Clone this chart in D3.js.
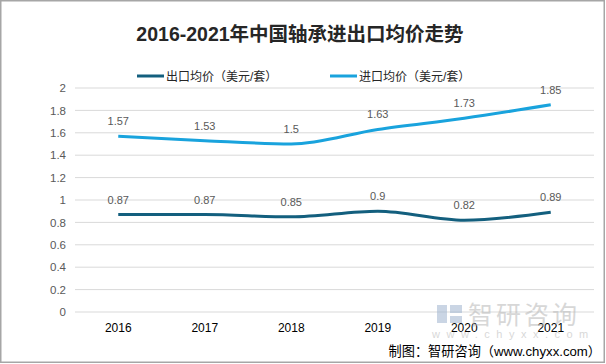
<!DOCTYPE html>
<html><head><meta charset="utf-8">
<script src="https://cdn.jsdelivr.net/npm/d3@7"></script>
<style>
html,body{margin:0;padding:0;background:#fff;}
svg{display:block;font-family:"Liberation Sans","Noto Sans CJK SC",sans-serif;}
</style></head>
<body>
<svg id="c" width="606" height="364"></svg>
<script>
const years = ["2016","2017","2018","2019","2020","2021"];
const exportPrice = [0.87, 0.87, 0.85, 0.9, 0.82, 0.89];
const importPrice = [1.57, 1.53, 1.5, 1.63, 1.73, 1.85];
const yTicks = [0, 0.2, 0.4, 0.6, 0.8, 1, 1.2, 1.4, 1.6, 1.8, 2];
const seriesNames = ["出口均价（美元/套）", "进口均价（美元/套）"];
const colors = ["#135f7e", "#19a3dd"];

const svg = d3.select("#c");
svg.append("rect").attr("x",0.75).attr("y",0.75).attr("width",603.5).attr("height",361.5)
  .attr("fill","#fff").attr("stroke","#a6a6a6").attr("stroke-width",1.5);

const x = d3.scaleBand().domain(years).range([75, 594]);
const y = d3.scaleLinear().domain([0, 2]).range([312, 88]);

// gridlines
svg.append("g").selectAll("line").data(yTicks).join("line")
  .attr("x1", 75).attr("x2", 594)
  .attr("y1", d => y(d)).attr("y2", d => y(d))
  .attr("stroke", "#d9d9d9").attr("stroke-width", 1);

// y axis labels
const yAxis = d3.axisLeft(y).tickValues(yTicks).tickSize(0).tickPadding(0).tickFormat(d => d3.format("~g")(d));
const ya = svg.append("g").attr("transform","translate(66,0)").call(yAxis);
ya.select(".domain").remove();
ya.selectAll("text").attr("fill","#595959").attr("font-size",11.5).attr("font-family","Liberation Sans, sans-serif");

// x axis labels
const xAxis = d3.axisBottom(x).tickSize(0).tickPadding(0);
const xa = svg.append("g").attr("transform","translate(0,323)").call(xAxis);
xa.select(".domain").remove();
xa.selectAll("text").attr("fill","#000").attr("font-size",12).attr("font-family","Liberation Sans, sans-serif");

// watermark
const wm = svg.append("g").attr("opacity",0.55);
wm.append("rect").attr("x",437).attr("y",305).attr("width",10).attr("height",18).attr("fill","#9fb4cf");
wm.append("rect").attr("x",450).attr("y",305).attr("width",12).attr("height",8).attr("fill","#9fb4cf");
wm.append("rect").attr("x",450).attr("y",316).attr("width",12).attr("height",7).attr("fill","#9fb4cf");
wm.append("text").attr("x",468).attr("y",324).attr("font-size",25).attr("fill","#b8b8b8")
  .attr("letter-spacing",3).text("智研咨询");
wm.append("text").attr("x",432).attr("y",338).attr("font-size",11).attr("fill","#b8b8b8")
  .attr("letter-spacing",6.5).text("www.chyxx.com");

const cx = d => x(d) + x.bandwidth()/2;
const line = d3.line().x((d,i) => cx(years[i])).y(d => y(d)).curve(d3.curveMonotoneX);

[exportPrice, importPrice].forEach((vals, k) => {
  svg.append("path").datum(vals).attr("d", line)
    .attr("fill","none").attr("stroke",colors[k]).attr("stroke-width",3);
  svg.append("g").selectAll("text").data(vals).join("text")
    .attr("x",(d,i)=>cx(years[i])).attr("y",d=>y(d)-11)
    .attr("text-anchor","middle").attr("font-size",11).attr("fill","#595959")
    .text(d=>d3.format("~g")(d));
});

// title
svg.append("text").attr("x",300).attr("y",41).attr("text-anchor","middle")
  .attr("font-size",19.5).attr("font-weight","bold").attr("fill","#262626").text("2016-2021年中国轴承进出口均价走势");

// legend
const legX = [137, 330];
seriesNames.forEach((n,k)=>{
  svg.append("line").attr("x1",legX[k]).attr("x2",legX[k]+27).attr("y1",76).attr("y2",76)
    .attr("stroke",colors[k]).attr("stroke-width",3);
  svg.append("text").attr("x",legX[k]+29).attr("y",80.5).attr("font-size",12).attr("fill","#262626").text(n);
});

// source
svg.append("text").attr("x",601).attr("y",356).attr("text-anchor","end")
  .attr("font-size",13.2).attr("fill","#000").text("制图：智研咨询（www.chyxx.com）");
</script>
</body></html>
